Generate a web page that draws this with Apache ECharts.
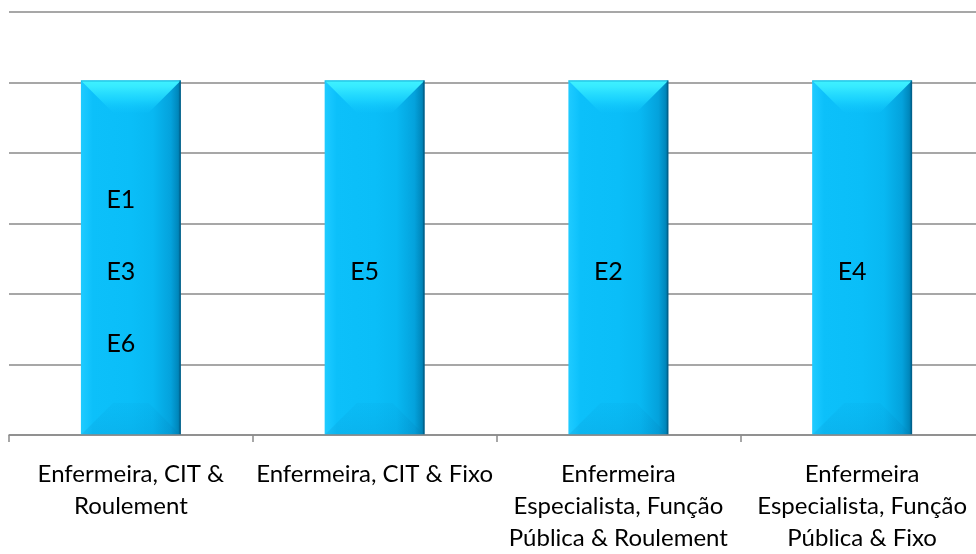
<!DOCTYPE html>
<html>
<head>
<meta charset="utf-8">
<title>Enfermeiras por regime</title>
<script src="https://cdn.jsdelivr.net/npm/echarts@6/dist/echarts.min.js"></script>
<style>
  html, body { margin: 0; padding: 0; background: #ffffff; }
  /* the plot runs a few pixels past the right edge, clipped by the frame */
  #frame { width: 976px; height: 554px; overflow: hidden; position: relative; }
  #chart { width: 990px; height: 554px; position: absolute; left: 0; top: 0; }
</style>
</head>
<body>
<div id="frame"><div id="chart"></div></div>
<script>
// Categories (x axis), one bar per category
const categories = [
  'Enfermeira, CIT &\nRoulement',
  'Enfermeira, CIT & Fixo',
  'Enfermeira\nEspecialista, Função\nPública & Roulement',
  'Enfermeira\nEspecialista, Função\nPública & Fixo'
];
// Bar heights
const values = [5, 5, 5, 5];
// Text written inside each bar
const barLabels = ['E1\n\nE3\n\nE6', 'E5', 'E2', 'E4'];
// Value axis range
const yMin = 0;
const yMax = 6;
const yStep = 1;

const FONT = 'Lato, "Open Sans", sans-serif';

// Bevelled bar, drawn from the axis scales
function renderBevelBar(params, api) {
  const idx = api.value(0);
  const top = api.coord([idx, api.value(1)]);
  const base = api.coord([idx, 0]);
  const bw = api.size([1, 0])[0] * 0.41;
  const L = top[0] - bw / 2;
  const R = top[0] + bw / 2;
  const T = top[1] - 2;
  const B = base[1];
  const d = bw * 0.32;
  const grad = (x1, y1, x2, y2, stops) => new echarts.graphic.LinearGradient(x1, y1, x2, y2,
    stops.map(s => ({ offset: s[0], color: s[1] })));

  return {
    type: 'group',
    children: [
      {
        type: 'rect',
        shape: { x: L, y: T, width: R - L, height: B - T },
        style: {
          fill: grad(0, 0, 1, 0, [
            [0, '#1fcbff'], [0.08, '#12c4fd'], [0.12, '#0cc0fa'], [0.5, '#0abef8'],
            [0.72, '#08b8f2'], [0.9, '#04a2dc'], [0.97, '#0088bd'], [1, '#006d9a']
          ])
        }
      },
      {
        type: 'polygon',
        shape: { points: [[L, B], [R, B], [R - d, B - d], [L + d, B - d]] },
        style: { fill: grad(0, 1, 0, 0, [[0, 'rgba(0,110,170,0.14)'], [1, 'rgba(0,120,180,0.05)']]) }
      },
      {
        type: 'polygon',
        shape: { points: [[L, T], [R, T], [R - d, T + d], [L + d, T + d]] },
        style: {
          fill: grad(0, 0, 0, 1, [
            [0, '#40f2ff'], [0.2, '#36eaff'], [0.6, 'rgba(30,215,255,0.8)'], [1, 'rgba(15,196,251,0.2)']
          ])
        }
      },
      {
        type: 'rect',
        shape: { x: L, y: T, width: R - L, height: 1 },
        style: { fill: 'rgba(0,150,200,0.6)' }
      },
      {
        type: 'rect',
        shape: { x: R - 1.5, y: T, width: 1.5, height: B - T },
        style: { fill: 'rgba(0,85,125,0.6)' }
      },
      {
        type: 'text',
        x: top[0] - 10,
        y: (T + B) / 2 + 14,
        style: {
          text: barLabels[params.dataIndex],
          fill: '#000000',
          font: '25px ' + FONT,
          lineHeight: 36,
          align: 'center',
          verticalAlign: 'middle'
        }
      }
    ]
  };
}

const chart = echarts.init(document.getElementById('chart'), null, { renderer: 'canvas' });

chart.setOption({
  animation: false,
  backgroundColor: '#ffffff',
  grid: { left: 9, top: 12, right: 6, bottom: 113, containLabel: false },
  xAxis: {
    type: 'category',
    data: categories,
    boundaryGap: true,
    z: 5,
    axisLine: { show: true, lineStyle: { color: '#8a8a8a', width: 1.5 } },
    axisTick: { show: true, length: 7, lineStyle: { color: '#8a8a8a', width: 1.5 } },
    axisLabel: {
      interval: 0,
      margin: 23,
      color: '#000000',
      fontFamily: FONT,
      fontSize: 24,
      lineHeight: 32,
      align: 'center'
    }
  },
  yAxis: {
    type: 'value',
    min: yMin,
    max: yMax,
    interval: yStep,
    axisLine: { show: false },
    axisTick: { show: false },
    axisLabel: { show: false },
    splitLine: { show: true, lineStyle: { color: '#8a8a8a', width: 1.5 } }
  },
  series: [{
    type: 'custom',
    renderItem: renderBevelBar,
    data: values.map((v, i) => [i, v]),
    encode: { x: 0, y: 1 },
    z: 2
  }]
});
</script>
</body>
</html>
